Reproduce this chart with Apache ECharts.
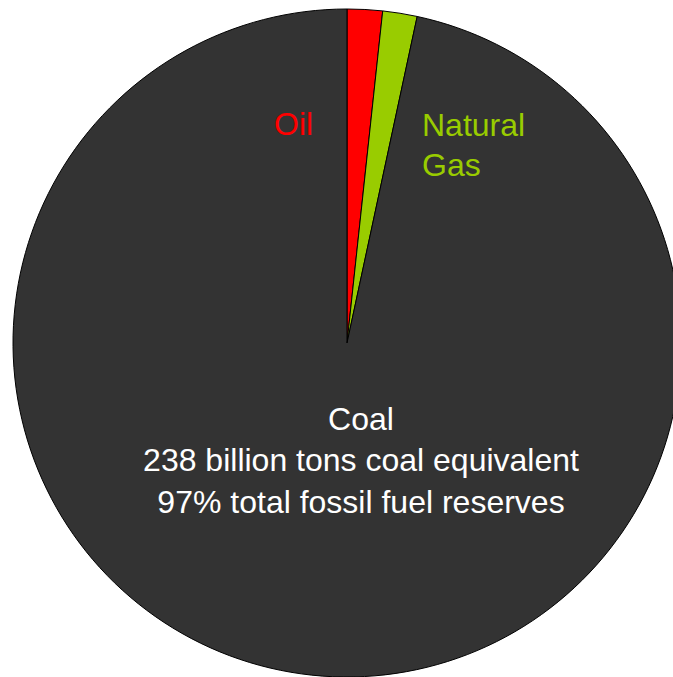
<!DOCTYPE html>
<html>
<head>
<meta charset="utf-8">
<script src="https://cdn.jsdelivr.net/npm/echarts@6/dist/echarts.min.js"></script>
<style>html,body{margin:0;padding:0;background:#fff}#c{width:673px;height:677px}</style>
</head>
<body>
<div id="c"></div>
<script>
const categories = ["Oil", "Natural Gas", "Coal"];
const values = [4.2, 4.1, 238];
const colors = ["#ff0000", "#99cc00", "#333333"];
const coalLabel = ["Coal", "238 billion tons coal equivalent", "97% total fossil fuel reserves"];

const chart = echarts.init(document.getElementById('c'), null, {renderer: 'svg'});
const font = 'Liberation Sans, Arial, Helvetica, sans-serif';
chart.setOption({
  animation: false,
  backgroundColor: '#ffffff',
  series: [{
    type: 'pie',
    center: [347, 343],
    radius: 334,
    startAngle: 90,
    clockwise: true,
    label: {show: false},
    labelLine: {show: false},
    emphasis: {disabled: true},
    itemStyle: {borderColor: '#000', borderWidth: 1},
    data: categories.map((c, i) => ({name: c, value: values[i], itemStyle: {color: colors[i]}}))
  }],
  graphic: {
    elements: [
      {type: 'text', z: 100, left: 274, top: 108, style: {text: 'Oil', fill: colors[0], font: '32px ' + font}},
      {type: 'text', z: 100, left: 422, top: 105, style: {text: 'Natural\nGas', fill: colors[1], font: '32px ' + font, lineHeight: 40}},
      {type: 'text', z: 100, x: 361, y: 460, style: {text: coalLabel.join('\n'), fill: '#ffffff', font: '32px ' + font, lineHeight: 41.5, align: 'center', verticalAlign: 'middle'}}
    ]
  }
});
</script>
</body>
</html>
